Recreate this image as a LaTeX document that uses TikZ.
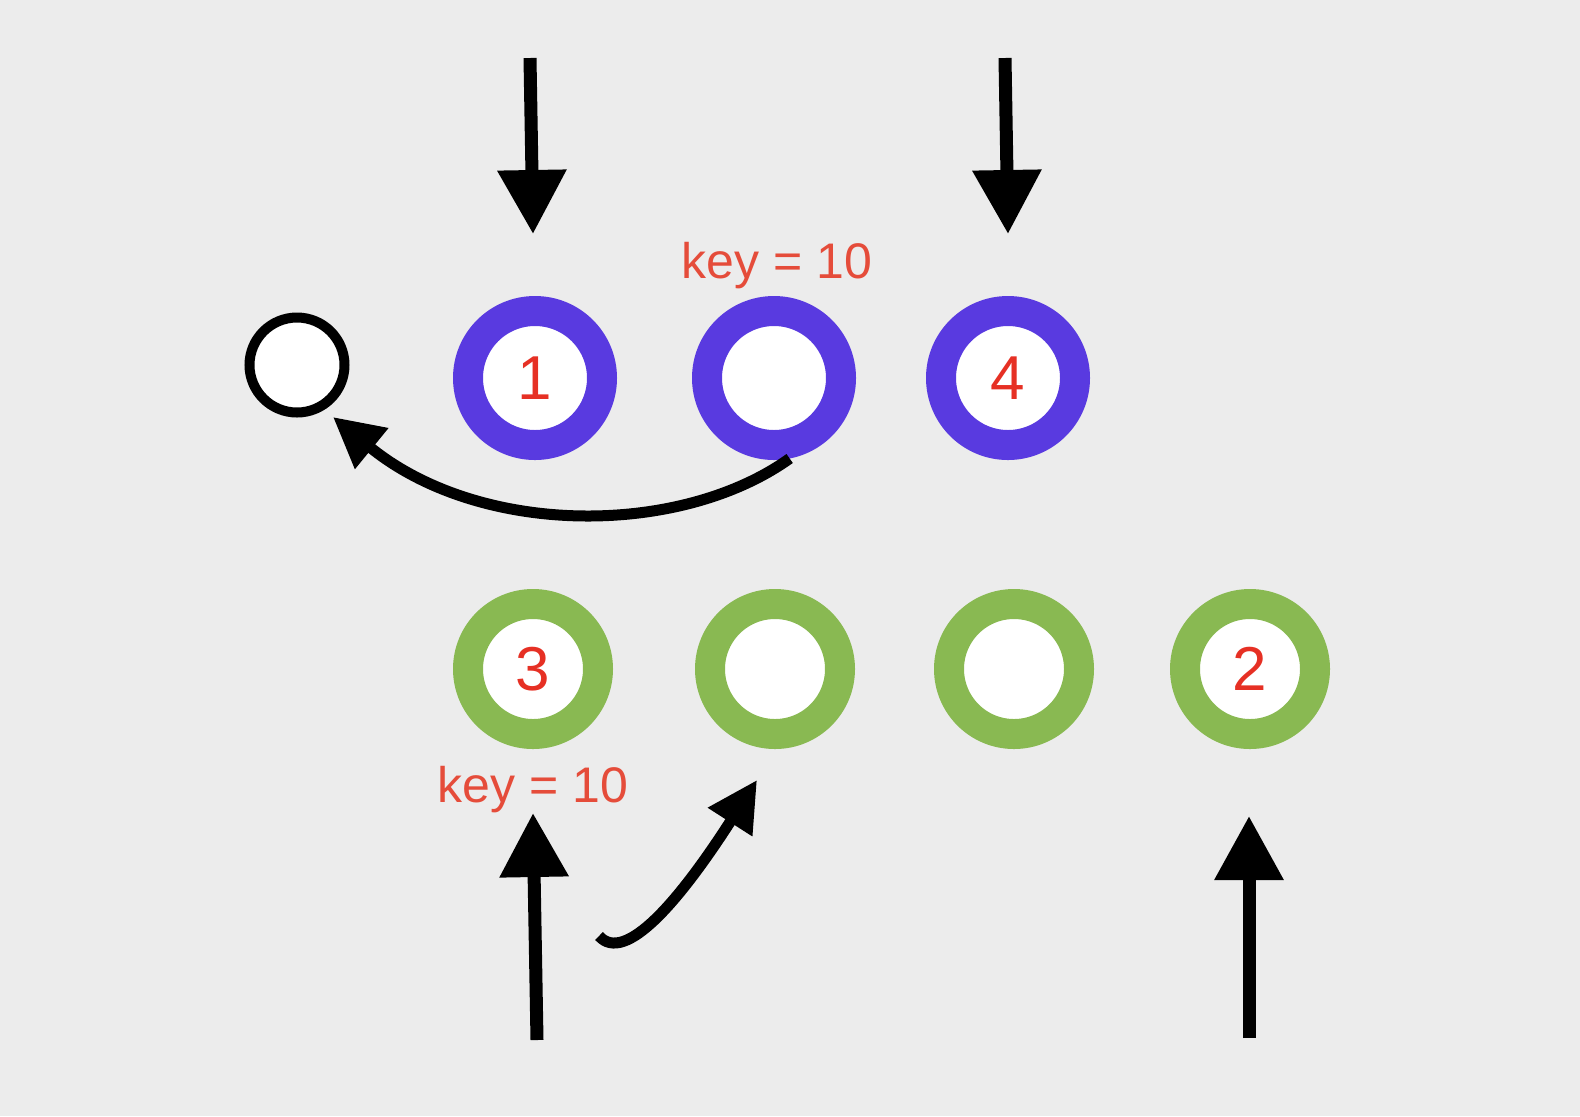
\documentclass[tikz,border=0pt]{standalone}
\usepackage{fontspec}
\setmainfont{Liberation Sans}
\usetikzlibrary{arrows.meta}
\definecolor{bg}{RGB}{236,236,236}
\definecolor{ringblue}{RGB}{89,58,224}
\definecolor{ringgreen}{RGB}{137,185,82}
\definecolor{numred}{RGB}{230,48,36}
\definecolor{keyred}{RGB}{229,76,58}
\tikzset{
    bluering/.style={circle, draw=ringblue, line width=15pt, fill=white, minimum size=67pt, inner sep=0pt, text=numred, font=\fontsize{31}{31}\selectfont},
    greenring/.style={bluering, draw=ringgreen, minimum size=65pt},
    freering/.style={circle, draw=black, line width=5pt, fill=white, minimum size=47.5pt, inner sep=0pt},
    keylabel/.style={text=keyred, anchor=base, font=\fontsize{25}{25}\selectfont},
    bigarrow/.style={line width=6.5pt, -{Triangle[length=32pt,width=33pt]}},
    bendarrow/.style={line width=5.5pt, -{Triangle[length=25pt,width=25pt]}}
}
\begin{document}
\begin{tikzpicture}[x=0.5pt, y=-0.5pt]
    \fill[bg] (0,0) rectangle (1580,1116);
    \useasboundingbox (0,0) rectangle (1580,1116);
    % top row
    \node[freering] (w) at (297,365) {};
    \node[bluering] (b1) at (535,378) {1};
    \node[bluering] (b2) at (774,378) {};
    \node[bluering] (b4) at (1008,378) {4};
    \node[keylabel] (k1) at (777,278) {key = 10};
    % bottom row
    \node[greenring] (g3) at (533,669) {3};
    \node[greenring] (g0) at (775,669) {};
    \node[greenring] (g00) at (1014,669) {};
    \node[greenring] (g2) at (1250,669) {2};
    \node[keylabel] (k2) at (533,802) {key = 10};
    % free ends
    \coordinate (t1) at (530,58);
    \coordinate (h1) at (533,234);
    \coordinate (t4) at (1005,58);
    \coordinate (h4) at (1008,234);
    \coordinate (u3) at (537,1040);
    \coordinate (e3) at (533,813);
    \coordinate (u2) at (1249,1038);
    \coordinate (e2) at (1249,816);
    \coordinate (hook) at (599,936);
    \coordinate (e0) at (757,780);
    \coordinate (ew) at (333,417);
    % arrows
    \draw[bigarrow] (t1) -- (h1);
    \draw[bigarrow] (t4) -- (h4);
    \draw[bigarrow] (u3) -- (e3);
    \draw[bigarrow] (u2) -- (e2);
    \draw[bendarrow] (b2.-79) .. controls (680,537) and (480,537) .. (ew);
    \draw[bendarrow] (hook) .. controls (625,965) and (680,900) .. (e0);
\end{tikzpicture}
\end{document}
